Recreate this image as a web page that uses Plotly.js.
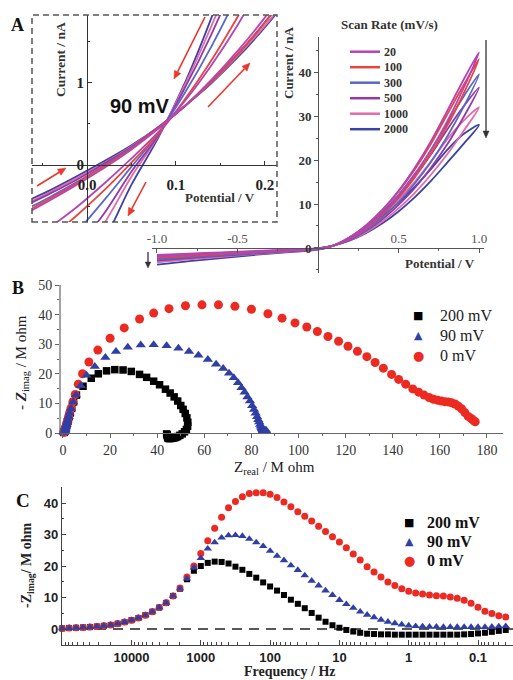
<!DOCTYPE html>
<html><head><meta charset="utf-8">
<script src="https://cdn.plot.ly/plotly-3.0.1.min.js"></script>
<style>html,body{margin:0;padding:0;background:#fff}#chart{width:513px;height:680px}</style>
</head><body><div id="chart"></div>
<script>
// ---------- Panel A : I-V curves (main) ----------
const scanRates = ['20', '100', '300', '500', '1000', '2000'];
const potential = [-1.0, -0.8, -0.6, -0.4, -0.2, 0.0, 0.1, 0.2, 0.3, 0.4, 0.5, 0.6, 0.7, 0.8, 0.9, 1.0];
const fwd20   = [-1.6, -1.3, -1.0, -0.7, -0.4, -0.1, 0.6, 2.2, 4.6, 7.8, 11.8, 16.6, 22.2, 28.6, 36.0, 44.5];
const bwd20   = [-1.9, -1.5, -1.2, -0.9, -0.5, -0.2, 0.6, 2.5, 5.2, 8.7, 13.0, 18.2, 24.2, 31.0, 38.0, 44.5];
const fwd100  = [-1.8, -1.4, -1.1, -0.8, -0.5, -0.1, 0.6, 2.1, 4.4, 7.5, 11.4, 16.0, 21.4, 27.6, 34.8, 43.0];
const bwd100  = [-2.2, -1.8, -1.4, -1.0, -0.6, -0.2, 0.6, 2.5, 5.2, 8.6, 12.8, 17.8, 23.6, 30.2, 36.8, 43.0];
const fwd300  = [-2.0, -1.6, -1.3, -0.9, -0.5, -0.1, 0.6, 2.0, 4.1, 6.9, 10.4, 14.6, 19.5, 25.2, 31.8, 39.5];
const bwd300  = [-2.6, -2.1, -1.6, -1.2, -0.7, -0.3, 0.6, 2.5, 5.0, 8.2, 12.1, 16.8, 22.2, 28.2, 34.2, 39.5];
const fwd500  = [-2.3, -1.8, -1.4, -1.0, -0.6, -0.1, 0.6, 1.9, 3.9, 6.5, 9.8, 13.6, 18.2, 23.4, 29.5, 36.5];
const bwd500  = [-2.9, -2.3, -1.8, -1.3, -0.8, -0.3, 0.6, 2.4, 4.9, 8.0, 11.8, 16.2, 21.2, 26.8, 32.0, 36.5];
const fwd1000 = [-2.6, -2.0, -1.6, -1.1, -0.6, -0.1, 0.6, 1.8, 3.6, 6.0, 9.0, 12.5, 16.6, 21.2, 26.4, 32.0];
const bwd1000 = [-3.3, -2.6, -2.0, -1.4, -0.9, -0.3, 0.6, 2.4, 4.7, 7.6, 11.0, 15.0, 19.6, 24.6, 28.8, 32.0];
const fwd2000 = [-2.9, -2.3, -1.8, -1.3, -0.7, -0.1, 0.6, 1.7, 3.4, 5.6, 8.3, 11.5, 15.2, 19.3, 23.5, 28.0];
const bwd2000 = [-3.8, -3.0, -2.3, -1.6, -1.0, -0.4, 0.6, 2.3, 4.5, 7.2, 10.3, 13.9, 17.9, 22.2, 25.8, 28.0];

// ---------- Panel A : inset (zoom near 90 mV) ----------
const insetPotential = [-0.07, -0.04, -0.01, 0.02, 0.05, 0.08, 0.11, 0.14, 0.17, 0.20, 0.23];
const insetFwd20   = [-0.60, -0.42, -0.23, -0.03, 0.19, 0.44, 0.72, 1.04, 1.40, 1.80, 2.25];
const insetBwd20   = [-1.00, -0.75, -0.50, -0.22, 0.08, 0.40, 0.78, 1.22, 1.72, 2.30, 2.90];
const insetFwd100  = [-0.58, -0.40, -0.21, -0.01, 0.20, 0.45, 0.72, 1.02, 1.36, 1.74, 2.16];
const insetBwd100  = [-1.15, -0.88, -0.60, -0.30, 0.03, 0.38, 0.80, 1.28, 1.82, 2.40, 3.05];
const insetFwd300  = [-0.55, -0.38, -0.20, 0.00, 0.21, 0.45, 0.72, 1.02, 1.36, 1.74, 2.16];
const insetBwd300  = [-1.50, -1.15, -0.80, -0.42, -0.02, 0.38, 0.88, 1.45, 2.10, 2.85, 3.70];
const insetFwd500  = [-0.50, -0.34, -0.17, 0.02, 0.22, 0.46, 0.72, 1.02, 1.36, 1.74, 2.16];
const insetBwd500  = [-1.80, -1.40, -1.00, -0.58, -0.08, 0.36, 0.94, 1.60, 2.35, 3.20, 4.10];
const insetFwd1000 = [-0.48, -0.32, -0.15, 0.03, 0.23, 0.46, 0.72, 1.01, 1.34, 1.70, 2.10];
const insetBwd1000 = [-2.00, -1.58, -1.15, -0.70, -0.14, 0.35, 0.98, 1.70, 2.50, 3.40, 4.40];
const insetFwd2000 = [-0.45, -0.30, -0.13, 0.05, 0.24, 0.46, 0.72, 1.00, 1.32, 1.68, 2.08];
const insetBwd2000 = [-2.30, -1.85, -1.38, -0.90, -0.24, 0.33, 1.00, 1.80, 2.70, 3.70, 4.80];

// ---------- Panels B & C : impedance ----------
const biasLabels = ['200 mV', '90 mV', '0 mV'];
const freqHz = [100000, 79433, 63096, 50119, 39811, 31623, 25119, 19953, 15849, 12589,
  10000, 7943, 6310, 5012, 3981, 3162, 2512, 1995, 1585, 1259,
  1000, 794.3, 631.0, 501.2, 398.1, 316.2, 251.2, 199.5, 158.5, 125.9,
  100, 79.43, 63.10, 50.12, 39.81, 31.62, 25.12, 19.95, 15.85, 12.59,
  10, 7.943, 6.310, 5.012, 3.981, 3.162, 2.512, 1.995, 1.585, 1.259,
  1, 0.7943, 0.6310, 0.5012, 0.3981, 0.3162, 0.2512, 0.1995, 0.1585, 0.1259,
  0.1, 0.07943, 0.06310, 0.05012, 0.03981];
const zimag200 = [0.2, 0.3, 0.4, 0.5, 0.6, 0.8, 1.0, 1.3, 1.7, 2.2, 2.8, 3.5, 4.4, 5.5, 6.8, 8.3, 10.5,
  12.8, 15.8, 18.5, 20.0, 21.0, 21.4, 21.3, 20.8, 19.8, 18.8, 17.5, 16.3, 14.8, 13.5, 12.2, 10.8, 9.3, 8.0,
  6.6, 5.1, 3.6, 2.3, 1.2, 0.4, -0.3, -0.8, -1.2, -1.5, -1.6, -1.7, -1.7, -1.8, -1.8, -1.8, -1.8, -1.8,
  -1.8, -1.8, -1.8, -1.8, -1.8, -1.7, -1.6, -1.4, -1.2, -0.9, -0.6, -0.3];
const zimag90 = [0.2, 0.3, 0.4, 0.5, 0.6, 0.8, 1.0, 1.3, 1.7, 2.2, 2.8, 3.5, 4.4, 5.5, 6.8, 8.3, 10.5,
  12.8, 16.0, 19.5, 22.5, 25.5, 27.5, 29.0, 29.7, 29.8, 29.5, 28.6, 27.5, 26.3, 24.8, 23.2, 21.8, 20.2, 18.7,
  17.0, 15.3, 13.8, 12.2, 10.8, 9.2, 7.9, 6.7, 5.5, 4.5, 3.7, 2.9, 2.3, 1.8, 1.4, 1.1, 0.9, 0.8,
  0.7, 0.7, 0.6, 0.6, 0.6, 0.6, 0.6, 0.6, 0.6, 0.7, 0.8, 0.9];
const zimag0 = [0.2, 0.3, 0.4, 0.5, 0.6, 0.8, 1.0, 1.3, 1.7, 2.2, 2.8, 3.5, 4.4, 5.5, 6.8, 8.3, 10.5,
  13.0, 16.5, 20.0, 24.0, 28.0, 32.0, 35.5, 38.5, 40.5, 42.0, 43.0, 43.3, 43.3, 42.8, 41.8, 40.3, 38.8, 37.2,
  35.8, 34.3, 32.6, 31.0, 29.3, 27.6, 25.8, 23.8, 21.9, 19.8, 18.1, 16.5, 14.9, 13.8, 12.8, 12.0, 11.4, 11.1,
  10.8, 10.6, 10.5, 10.2, 9.8, 9.1, 8.2, 6.9, 5.6, 4.9, 4.2, 3.8];
const zreal200 = [0.3, 0.4, 0.5, 0.6, 0.7, 0.8, 0.9, 1.0, 1.2, 1.4, 1.6, 1.9, 2.2, 2.6, 3.1, 3.7, 4.5,
  5.7, 8.5, 12.0, 15.0, 18.5, 22.0, 25.5, 29.0, 32.5, 35.5, 38.5, 41.0, 43.5, 45.5, 47.2, 48.7, 50.0, 51.0,
  51.9, 52.6, 53.0, 52.9, 52.4, 51.6, 50.6, 49.6, 48.7, 47.9, 47.2, 46.7, 46.3, 46.0, 45.8, 45.6, 45.4, 45.3,
  45.2, 45.1, 45.0, 44.9, 44.8, 44.7, 44.6, 44.5, 44.4, 44.3, 44.2, 44.0];
const zreal90 = [0.3, 0.4, 0.5, 0.6, 0.7, 0.8, 0.9, 1.0, 1.1, 1.3, 1.5, 1.7, 2.0, 2.4, 2.8, 3.4, 4.3,
  5.5, 7.5, 10.0, 13.5, 18.0, 22.5, 27.5, 33.0, 38.5, 44.0, 49.0, 53.5, 57.5, 61.5, 65.0, 68.0, 70.5, 72.5,
  74.3, 75.8, 77.1, 78.3, 79.4, 80.3, 81.1, 81.8, 82.4, 82.9, 83.3, 83.7, 84.0, 84.3, 84.5, 84.7, 84.9, 85.0,
  85.1, 85.2, 85.3, 85.4, 85.5, 85.6, 85.7, 85.8, 85.9, 86.0, 86.1, 86.2];
const zreal0 = [0.3, 0.4, 0.5, 0.6, 0.7, 0.8, 0.9, 1.0, 1.1, 1.3, 1.5, 1.7, 2.0, 2.4, 2.8, 3.4, 4.2,
  5.2, 6.5, 8.3, 11.0, 14.8, 20.0, 26.0, 32.5, 38.5, 45.0, 52.0, 59.0, 66.0, 73.0, 80.0, 87.0, 93.0, 98.5,
  103.5, 108.0, 112.5, 117.0, 121.0, 125.0, 129.0, 132.5, 136.0, 139.5, 142.5, 145.5, 148.5, 151.0, 153.3, 155.4, 157.3, 159.0,
  160.6, 162.1, 163.5, 165.0, 166.4, 167.8, 169.2, 170.6, 172.0, 173.3, 174.3, 175.0];

// ---------- styles ----------
const rateColors = ['#b444b6', '#e8453c', '#5868c6', '#9338aa', '#e26aa8', '#3a42a3'];
const biasColors = ['#000000', '#2f3fa6', '#ec2a22'];
const biasSymbols = ['square', 'triangle-up', 'circle'];
const biasGlyphs = ['■', '▲', '●'];
const SERIF = '"Liberation Serif", "Times New Roman", serif';
const SANS = '"Liberation Sans", Arial, sans-serif';
const W = 513, H = 680;
const X = p => p / W, Y = p => 1 - p / H;
const freePos = (range, domain, v) => domain[0] + (v - range[0]) / (range[1] - range[0]) * (domain[1] - domain[0]);

const fwdAll = [fwd20, fwd100, fwd300, fwd500, fwd1000, fwd2000];
const bwdAll = [bwd20, bwd100, bwd300, bwd500, bwd1000, bwd2000];
const insFwd = [insetFwd20, insetFwd100, insetFwd300, insetFwd500, insetFwd1000, insetFwd2000];
const insBwd = [insetBwd20, insetBwd100, insetBwd300, insetBwd500, insetBwd1000, insetBwd2000];

const traces = [];
for (let k = scanRates.length - 1; k >= 0; k--) {
  const back = potential.slice(0, -1).reverse();
  const backY = bwdAll[k].slice(0, -1).reverse();
  traces.push({x: potential.concat(back), y: fwdAll[k].concat(backY), xaxis: 'x', yaxis: 'y',
    mode: 'lines', line: {color: rateColors[k], width: 1.8, shape: 'spline', smoothing: 1},
    name: scanRates[k] + ' mV/s', hoverinfo: 'skip'});
}
for (let k = scanRates.length - 1; k >= 0; k--) {
  [insFwd[k], insBwd[k]].forEach(arr => traces.push({x: insetPotential, y: arr, xaxis: 'x2', yaxis: 'y2',
    mode: 'lines', line: {color: rateColors[k], width: 1.8, shape: 'spline', smoothing: 1},
    name: scanRates[k] + ' mV/s (inset)', hoverinfo: 'skip'}));
}
const zre = [zreal200, zreal90, zreal0], zim = [zimag200, zimag90, zimag0];
const bSizes = [7.5, 9, 9], cSizes = [6, 7.5, 7];
[0, 2, 1].forEach(k => {
  traces.push({x: zre[k], y: zim[k], xaxis: 'x3', yaxis: 'y3', mode: 'markers', cliponaxis: false,
    marker: {symbol: biasSymbols[k], size: bSizes[k], color: biasColors[k]}, name: biasLabels[k]});
});
[0, 2, 1].forEach(k => {
  traces.push({x: freqHz, y: zim[k], xaxis: 'x4', yaxis: 'y4', mode: 'markers', cliponaxis: false,
    marker: {symbol: biasSymbols[k], size: cSizes[k], color: biasColors[k]}, name: biasLabels[k] + ' (Bode)'});
});

const A = {xr: [-1.031, 1.031], xd: [X(152), X(484)], yr: [-5.7, 48], yd: [Y(273), Y(37)]};
const I = {xr: [-0.0618, 0.2135], xd: [X(32), X(277)], yr: [-0.695, 1.829], yd: [Y(222), Y(15)]};
const B = {xr: [-1.27, 186.8], xd: [X(60), X(503)], yr: [-2.6, 50], yd: [Y(440.7), Y(285)]};
const axCommon = {showgrid: false, zeroline: false, showline: true, fixedrange: true};

const layout = {
  width: W, height: H, margin: {l: 0, r: 0, t: 0, b: 0},
  paper_bgcolor: '#ffffff', plot_bgcolor: 'rgba(0,0,0,0)', showlegend: false,
  font: {family: SERIF, color: '#222'},
  xaxis: Object.assign({}, axCommon, {domain: A.xd, range: A.xr, anchor: 'free', position: freePos(A.yr, A.yd, 0),
    side: 'top', linecolor: '#555', linewidth: 1.2, tickvals: [-1, -0.5, 0.5, 1], ticktext: ['-1.0', '-0.5', '0.5', '1.0'],
    ticks: 'inside', ticklen: 4, tickcolor: '#555', tickfont: {family: SERIF, size: 13, color: '#555'},
    minor: {tickmode: 'linear', tick0: 0, dtick: 0.25, ticks: 'inside', ticklen: 2, tickcolor: '#555'}}),
  yaxis: Object.assign({}, axCommon, {domain: A.yd, range: A.yr, anchor: 'free', position: freePos(A.xr, A.xd, 0),
    side: 'left', linecolor: '#555', linewidth: 1.2, tick0: 0, dtick: 10, ticks: 'outside', ticklen: 4, tickcolor: '#555',
    tickfont: {family: SERIF, size: 13, weight: 'bold', color: '#333'},
    minor: {tick0: 0, dtick: 5, ticks: 'outside', ticklen: 2, tickcolor: '#555'}}),
  xaxis2: Object.assign({}, axCommon, {domain: I.xd, range: I.xr, anchor: 'free', position: freePos(I.yr, I.yd, 0),
    side: 'bottom', linecolor: '#333', linewidth: 1.4, tickvals: [0, 0.1, 0.2], ticktext: ['0.0', '0.1', '0.2'],
    ticks: 'inside', ticklen: 4, tickcolor: '#333', ticklabelstandoff: 6,
    tickfont: {family: SERIF, size: 15, weight: 'bold', color: '#222'},
    minor: {tickmode: 'linear', tick0: 0, dtick: 0.05, ticks: 'inside', ticklen: 2, tickcolor: '#333'}}),
  yaxis2: Object.assign({}, axCommon, {domain: I.yd, range: I.yr, anchor: 'free', position: freePos(I.xr, I.xd, 0),
    side: 'left', linecolor: '#333', linewidth: 1.4, tickvals: [0, 1], ticks: 'inside', ticklen: 4, tickcolor: '#333',
    tickfont: {family: SERIF, size: 15, weight: 'bold', color: '#222'},
    minor: {tickmode: 'linear', tick0: 0, dtick: 0.5, ticks: 'inside', ticklen: 2, tickcolor: '#333'}}),
  xaxis3: Object.assign({}, axCommon, {domain: B.xd, range: B.xr, anchor: 'free', position: freePos(B.yr, B.yd, 0),
    linecolor: '#666', linewidth: 1.2, tick0: 0, dtick: 20, ticks: 'outside', ticklen: 4, tickcolor: '#666',
    tickfont: {family: SERIF, size: 14, color: '#333'},
    minor: {tick0: 0, dtick: 10, ticks: 'outside', ticklen: 2, tickcolor: '#666'}}),
  yaxis3: Object.assign({}, axCommon, {domain: B.yd, range: B.yr, anchor: 'x3', showline: false,
    tick0: 0, dtick: 10, ticks: 'outside', ticklen: 4, tickcolor: '#666',
    tickfont: {family: SERIF, size: 14, color: '#333'},
    minor: {tick0: 0, dtick: 5, ticks: 'outside', ticklen: 2, tickcolor: '#666'}}),
  xaxis4: Object.assign({}, axCommon, {type: 'log', domain: [X(62), X(513)], range: [5.003, -1.505], anchor: 'y4',
    linecolor: '#444', linewidth: 1.2, tickvals: [10000, 1000, 100, 10, 1, 0.1], ticktext: ['10000', '1000', '100', '10', '1', '0.1'],
    ticks: 'inside', ticklen: 5, tickcolor: '#444', tickfont: {family: SANS, size: 13, weight: 'bold', color: '#222'},
    minor: {tickmode: 'linear', dtick: 'D1', ticks: 'inside', ticklen: 3, tickcolor: '#444'}}),
  yaxis4: Object.assign({}, axCommon, {domain: [Y(645), Y(487)], range: [-5.08, 45.1], anchor: 'x4',
    linecolor: '#444', linewidth: 1.2, tick0: 0, dtick: 10, ticks: 'inside', ticklen: 4, tickcolor: '#444',
    tickfont: {family: SANS, size: 13, weight: 'bold', color: '#222'},
    minor: {tick0: 0, dtick: 5, ticks: 'inside', ticklen: 2, tickcolor: '#444'}}),
  shapes: [], annotations: []
};

const txt = (text, px, py, font, extra) => Object.assign({text: text, x: X(px), y: Y(py), xref: 'paper', yref: 'paper',
  showarrow: false, xanchor: 'center', yanchor: 'middle', font: font}, extra || {});
const bold = (s, c) => ({family: SERIF, size: s, weight: 'bold', color: c || '#222'});
const ann = layout.annotations, shp = layout.shapes;

// arrows drawn as shapes: shaft + filled triangular head (pixel geometry -> paper)
function arrowShape(tx, ty, hx, hy, color, w, L, hw) {
  const dx = hx - tx, dy = hy - ty, len = Math.hypot(dx, dy);
  const ux = dx / len, uy = dy / len, nx = -uy, ny = ux;
  const bx = hx - ux * L, by = hy - uy * L;
  shp.push({type: 'line', xref: 'paper', yref: 'paper', x0: X(tx), y0: Y(ty), x1: X(bx), y1: Y(by),
    line: {color: color, width: w}});
  const p = (a, b) => X(a) + ',' + Y(b);
  shp.push({type: 'path', xref: 'paper', yref: 'paper',
    path: 'M' + p(hx, hy) + ' L' + p(bx + nx * hw, by + ny * hw) + ' L' + p(bx - nx * hw, by - ny * hw) + ' Z',
    fillcolor: color, line: {color: color, width: 0.5}});
}

ann.push(txt('A', 17, 25, bold(18, '#111')));
ann.push(txt('B', 18, 288, bold(18, '#111')));
ann.push(txt('C', 23, 500, bold(19, '#111')));
ann.push(txt('Potential / V', 440, 263, bold(13, '#333')));
ann.push(txt('Current / nA', 288, 63, bold(13, '#333'), {textangle: -90}));
ann.push(txt('Potential / V', 220, 197, bold(13, '#333')));
ann.push(txt('Current / nA', 60, 60, bold(13.5, '#333'), {textangle: -90}));
ann.push(txt('90 mV', 140, 106, {family: SANS, size: 20, weight: 'bold', color: '#111'}));
ann.push(txt('Scan Rate (mV/s)', 389, 25, bold(13, '#333')));
scanRates.forEach((r, k) => {
  const yy = 51.7 + k * 15.5;
  shp.push({type: 'line', xref: 'paper', yref: 'paper', x0: X(350), x1: X(380), y0: Y(yy), y1: Y(yy),
    line: {color: rateColors[k], width: 2.5}});
  ann.push(txt(r, 382, yy, bold(12, '#333'), {xanchor: 'left'}));
});
shp.push({type: 'rect', xref: 'paper', yref: 'paper', x0: X(32), x1: X(277), y0: Y(222), y1: Y(15),
  line: {color: '#555', width: 1.5, dash: '6px,4px'}});
shp.push({type: 'line', xref: 'x3 domain', yref: 'y3', x0: 0, x1: 0, y0: 0, y1: 50,
  line: {color: '#666', width: 1.2}});
arrowShape(486, 40, 486, 138, '#333', 1.3, 7, 3);
arrowShape(148, 252, 148, 268, '#333', 1.3, 6, 2.8);
const red = '#e8372c';
arrowShape(205, 17, 174, 79, red, 1.6, 8, 3.5);
arrowShape(208, 107, 250, 63, red, 1.6, 8, 3.5);
arrowShape(37, 186, 66, 168, red, 1.6, 8, 3.5);
arrowShape(146, 182, 128, 216, red, 1.6, 8, 3.5);

ann.push(txt('Z<sub>real</sub> / M ohm', 274, 468, {family: SERIF, size: 15, color: '#222'}));
ann.push(txt('- <b><i>Z</i></b><sub>imag</sub> / M ohm', 22, 363, {family: SERIF, size: 15, color: '#222'}, {textangle: -90}));
[0, 1, 2].forEach((k, j) => {
  const yy = 315 + j * 20;
  ann.push(txt(biasGlyphs[k], 418, yy, {family: 'DejaVu Sans', size: k === 2 ? 13 : 11, color: biasColors[k]}));
  ann.push(txt(biasLabels[k], 438, yy, {family: SERIF, size: 16, color: '#222'}, {xanchor: 'left'}));
});
ann.push(txt('Frequency / Hz', 290, 671, bold(14, '#222')));
ann.push(txt('-Z<sub>imag</sub>/ M ohm', 27, 565, bold(14, '#222'), {textangle: -90}));
[0, 1, 2].forEach((k, j) => {
  const yy = 522 + j * 19;
  ann.push(txt(biasGlyphs[k], 409, yy, {family: 'DejaVu Sans', size: k === 2 ? 13 : 11, color: biasColors[k]}));
  ann.push(txt(biasLabels[k], 425, yy, bold(16, '#111'), {xanchor: 'left'}));
});
shp.push({type: 'line', xref: 'x4 domain', yref: 'y4', x0: 0, x1: 1, y0: 0, y1: 0, layer: 'below',
  line: {color: '#222', width: 1.5, dash: '10px,7px'}});

Plotly.newPlot('chart', traces, layout, {staticPlot: true, displayModeBar: false});
</script></body></html>
